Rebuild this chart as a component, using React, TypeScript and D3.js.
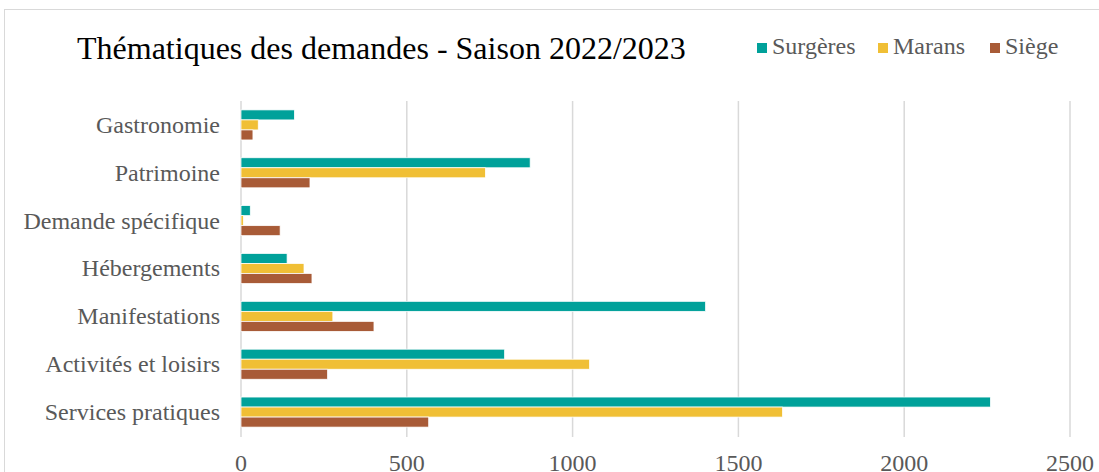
import React, { useRef, useEffect } from "react";
import * as d3 from "d3";

const categories = [
  "Gastronomie",
  "Patrimoine",
  "Demande spécifique",
  "Hébergements",
  "Manifestations",
  "Activités et loisirs",
  "Services pratiques",
];
const seriesNames = ["Surgères", "Marans", "Siège"];
const surgeres = [161, 872, 28, 139, 1401, 795, 2260];
const marans = [52, 737, 7, 190, 277, 1051, 1633];
const siege = [36, 208, 118, 214, 401, 261, 566];
const xTicks = [0, 500, 1000, 1500, 2000, 2500];
const colors = ["#00a19a", "#f0bf35", "#a85b37"];

const W = 1099;
const H = 472;

const App = () => {
  const svgRef = useRef<SVGSVGElement>(null);

  useEffect(() => {
    const svg = d3.select(svgRef.current);
    svg.selectAll("*").remove();

    const font = "'Liberation Serif', 'Times New Roman', serif";
    const values = [surgeres, marans, siege];

    // cadre du graphique
    svg
      .append("rect")
      .attr("x", 4.5)
      .attr("y", 9.5)
      .attr("width", 1300)
      .attr("height", 700)
      .attr("fill", "white")
      .attr("stroke", "#d9d9d9")
      .attr("stroke-width", 1);

    const x = d3.scaleLinear().domain([0, 2500]).range([241, 1070]);
    const y = d3
      .scaleBand()
      .domain(categories)
      .range([101, 436])
      .paddingInner(0.372)
      .paddingOuter(0.186);
    const ySub = d3
      .scaleBand()
      .domain(seriesNames)
      .range([0, y.bandwidth()]);

    // grille verticale
    svg
      .append("g")
      .selectAll("line")
      .data(xTicks)
      .enter()
      .append("line")
      .attr("x1", d => x(d))
      .attr("x2", d => x(d))
      .attr("y1", 101)
      .attr("y2", 437)
      .attr("stroke", "#d9d9d9")
      .attr("stroke-width", 1.5);

    // barres
    const groups = svg
      .append("g")
      .selectAll("g")
      .data(categories)
      .enter()
      .append("g")
      .attr("transform", d => `translate(0, ${y(d)})`);

    groups
      .selectAll("rect")
      .data((d, i) => seriesNames.map((s, k) => ({ s, k, v: values[k][i] })))
      .enter()
      .append("rect")
      .attr("x", x(0))
      .attr("y", d => ySub(d.s) as number)
      .attr("width", d => x(d.v) - x(0))
      .attr("height", ySub.bandwidth())
      .attr("fill", d => colors[d.k])
      .attr("stroke", "white")
      .attr("stroke-width", 0.75);

    // libellés des catégories
    svg
      .append("g")
      .selectAll("text")
      .data(categories)
      .enter()
      .append("text")
      .attr("x", 220)
      .attr("y", d => (y(d) as number) + y.bandwidth() / 2)
      .attr("dy", "0.33em")
      .attr("text-anchor", "end")
      .style("font-family", font)
      .style("font-size", "24px")
      .style("fill", "#595959")
      .text(d => d);

    // axe x
    svg
      .append("g")
      .selectAll("text")
      .data(xTicks)
      .enter()
      .append("text")
      .attr("x", d => x(d))
      .attr("y", 471)
      .attr("text-anchor", "middle")
      .style("font-family", font)
      .style("font-size", "24px")
      .style("fill", "#595959")
      .text(d => d);

    // titre
    svg
      .append("text")
      .attr("x", 77)
      .attr("y", 59)
      .style("font-family", font)
      .style("font-size", "32px")
      .style("fill", "#000")
      .text("Thématiques des demandes - Saison 2022/2023");

    // légende
    const legendX = [757, 878, 990];
    const legend = svg
      .append("g")
      .selectAll("g")
      .data(seriesNames)
      .enter()
      .append("g")
      .attr("transform", (d, i) => `translate(${legendX[i]}, 0)`);
    legend
      .append("rect")
      .attr("x", 0)
      .attr("y", 43)
      .attr("width", 10)
      .attr("height", 10)
      .attr("fill", (d, i) => colors[i]);
    legend
      .append("text")
      .attr("x", 15)
      .attr("y", 54)
      .style("font-family", font)
      .style("font-size", "24px")
      .style("fill", "#595959")
      .text(d => d);
  }, []);

  return (
    <div style={{ position: "absolute", left: 0, top: 0 }}>
      <svg ref={svgRef} width={W} height={H} style={{ display: "block" }}></svg>
    </div>
  );
};

export default App;
